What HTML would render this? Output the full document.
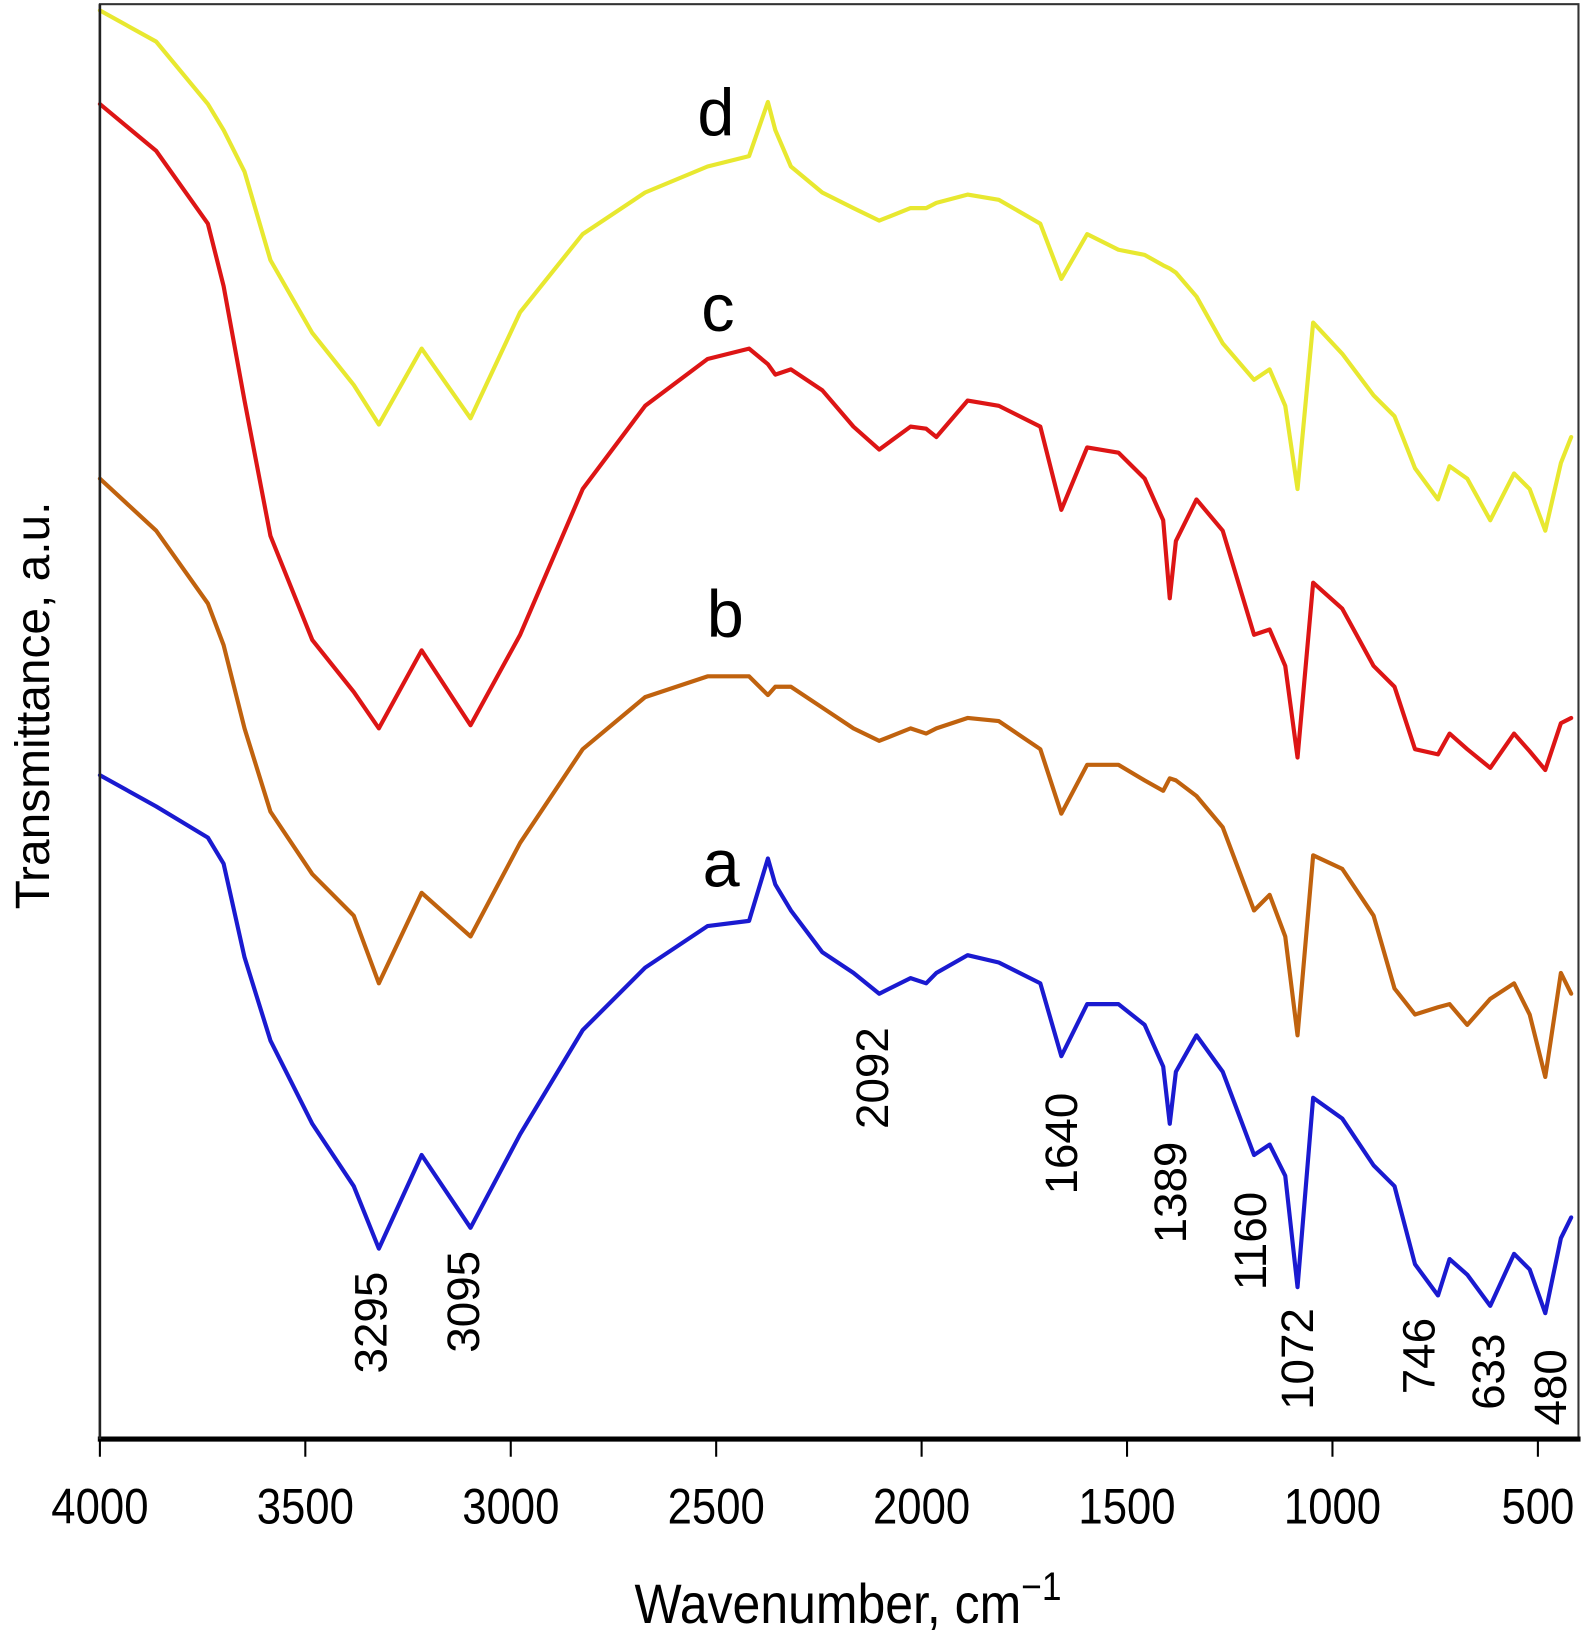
<!DOCTYPE html>
<html><head><meta charset="utf-8"><style>
html,body{margin:0;padding:0;background:#fff;}
svg{display:block;}
text{font-family:"Liberation Sans",Arial,sans-serif;fill:#000;}
</style></head><body>
<svg id="chart" width="1592" height="1630" viewBox="0 0 1530 1566.5" xmlns="http://www.w3.org/2000/svg">
<rect x="0" y="0" width="1530" height="1567" fill="#fff"/>
<g id="series"></g>
<g id="axes"></g>
<g id="labels"></g>
</svg>
<script>
const wavenumbers = [4000,3863,3737,3699,3648,3585,3483,3382,3321,3217,3098,2977,2825,2673,2521,2420,2374,2356,2318,2242,2166,2103,2027,1989,1964,1888,1812,1711,1660,1597,1521,1457,1412,1396,1381,1331,1267,1191,1153,1115,1085,1047,976,900,849,799,743,715,672,616,558,520,482,444,419];
const seriesA = [63.8,60.8,57.8,55.3,46.3,38.3,30.3,24.3,18.3,27.3,20.3,29.3,39.3,45.3,49.3,49.8,55.8,53.3,50.8,46.8,44.8,42.8,44.3,43.8,44.8,46.5,45.8,43.8,36.8,41.8,41.8,39.8,35.8,30.3,35.3,38.8,35.3,27.3,28.3,25.3,14.6,32.8,30.8,26.3,24.3,16.8,13.8,17.3,15.8,12.8,17.8,16.3,12.1,19.3,21.3];
const seriesB = [92.3,87.3,80.3,76.3,68.3,60.3,54.3,50.3,43.8,52.5,48.3,57.3,66.3,71.3,73.3,73.3,71.5,72.3,72.3,70.3,68.3,67.1,68.3,67.8,68.3,69.3,69.0,66.3,60.1,64.8,64.8,63.3,62.3,63.5,63.3,61.8,58.8,50.8,52.3,48.3,38.8,56.1,54.8,50.3,43.3,40.8,41.5,41.8,39.8,42.3,43.8,40.8,34.8,44.8,42.8];
const seriesC = [128.3,123.8,116.8,110.8,99.8,86.8,76.8,71.8,68.3,75.8,68.6,77.3,91.3,99.3,103.8,104.8,103.3,102.3,102.8,100.8,97.3,95.1,97.3,97.1,96.3,99.8,99.3,97.3,89.3,95.3,94.8,92.3,88.3,80.8,86.3,90.3,87.3,77.3,77.8,74.3,65.5,82.3,79.8,74.3,72.3,66.3,65.8,67.8,66.3,64.5,67.8,66.1,64.3,68.8,69.3];
const seriesD = [137.3,134.3,128.3,125.8,121.8,113.3,106.3,101.3,97.5,104.8,98.1,108.3,115.8,119.8,122.3,123.3,128.5,125.8,122.3,119.8,118.3,117.1,118.3,118.3,118.8,119.6,119.1,116.8,111.5,115.8,114.3,113.8,112.8,112.5,112.1,109.8,105.3,101.8,102.8,99.3,91.3,107.3,104.3,100.3,98.3,93.3,90.3,93.5,92.3,88.3,92.8,91.3,87.3,93.8,96.3];
const xTicks = [4000,3500,3000,2500,2000,1500,1000,500];
const peakLabels = ["3295","3095","2092","1640","1389","1160","1072","746","633","480"];
const peakValues = [3340,3115,2120,1660,1395,1200,1085,790,620,470];
const peakBottoms = [1320,1300,1085,1148,1195,1240,1355,1340,1355,1370];
const curveNames = ["a","b","c","d"];

const NS = "http://www.w3.org/2000/svg";
const X0 = 96, XK = 1382/3500, YB = 1383, YK = 10;
function x(w){ return X0 + (4000 - w) * XK; }
function y(t){ return YB - t * YK; }

const series = document.getElementById('series');
const axes = document.getElementById('axes');
const labels = document.getElementById('labels');

function mk(tag, attrs, parent){
  const e = document.createElementNS(NS, tag);
  for (const k in attrs) e.setAttribute(k, attrs[k]);
  parent.appendChild(e); return e;
}

const allSeries = [seriesA, seriesB, seriesC, seriesD];
const colors = ["#1a1ad0","#c0620e","#dd1515","#e8e830"];
for (let s = 0; s < allSeries.length; s++){
  const vals = allSeries[s];
  let d = "";
  for (let i = 0; i < vals.length; i++){
    d += (i ? "L" : "M") + x(wavenumbers[i]).toFixed(1) + "," + y(vals[i]).toFixed(1);
  }
  const p = mk('path', {d: d, fill: "none", stroke: colors[s], "stroke-width": 4, "stroke-linejoin": "round", "stroke-linecap": "round"}, series);
  
  
}

const fr = mk('rect', {x: 96, y: 4, width: 1421, height: 1379, fill: "none", stroke: "#333", "stroke-width": 2}, axes);


const xa = mk('line', {x1: 94, y1: 1383, x2: 1519, y2: 1383, stroke: "#000", "stroke-width": 5}, axes);


const ya = mk('line', {x1: 96, y1: 4, x2: 96, y2: 1383, stroke: "#222", "stroke-width": 2.5}, axes);



for (let i = 0; i < xTicks.length; i++){
  const tx = x(xTicks[i]);
  const t = mk('line', {x1: tx, y1: 1383, x2: tx, y2: 1400, stroke: "#000", "stroke-width": 2}, axes);
  
  
  const lb = mk('text', {x: 0, y: 0, "font-size": 42, "text-anchor": "middle", transform: "translate(" + tx.toFixed(1) + ",1464) scale(1,1.15)"}, axes);
  lb.textContent = String(xTicks[i]);
  
  
}

const xt = mk('text', {x: 0, y: 0, "font-size": 48, "text-anchor": "middle", transform: "translate(815,1560) scale(1,1.12)"}, axes);
xt.innerHTML = 'Wavenumber, cm<tspan dy="-20" font-size="34">−1</tspan>';



const yt = mk('text', {x: 0, y: 0, "font-size": 46, "text-anchor": "middle", transform: "translate(47,678) rotate(-90)"}, axes);
yt.textContent = 'Transmittance, a.u.';



const curveLabelPos = [[693,852],[697,612],[690,318],[688,130]];
for (let i = 0; i < curveNames.length; i++){
  const c = mk('text', {x: curveLabelPos[i][0], y: curveLabelPos[i][1], "font-size": 64, "text-anchor": "middle"}, labels);
  c.textContent = curveNames[i];
  
  
}

for (let i = 0; i < peakLabels.length; i++){
  const px = x(peakValues[i]) + 15;
  const t = mk('text', {x: 0, y: 0, "font-size": 44, "text-anchor": "start", transform: "translate(" + px.toFixed(1) + "," + peakBottoms[i] + ") rotate(-90)"}, labels);
  t.textContent = peakLabels[i];
  
  
}
</script>
</body></html>
